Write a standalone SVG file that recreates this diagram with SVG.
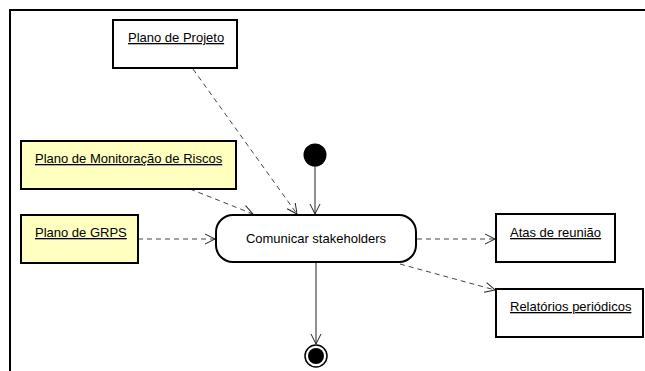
<svg xmlns="http://www.w3.org/2000/svg" width="645" height="371" viewBox="0 0 645 371">
  <defs>
    <marker id="open" viewBox="0 0 12 12" refX="11" refY="6" markerWidth="12" markerHeight="12" markerUnits="userSpaceOnUse" orient="auto">
      <path d="M1,1 L11,6 L1,11" fill="none" stroke="#222" stroke-width="1"/>
    </marker>
    <style>
      text { font-family: "Liberation Sans", Arial, sans-serif; font-size: 13px; fill: #000; }
      .obj { fill: #fff; stroke: #000; stroke-width: 2; }
      .ext { fill: #ffffc0; stroke: #000; stroke-width: 2; }
      .lbl { text-decoration: underline; }
      .dep { fill: none; stroke: #444; stroke-width: 1; stroke-dasharray: 5 4; marker-end: url(#open); }
      .flow { fill: none; stroke: #222; stroke-width: 1; marker-end: url(#open); }
    </style>
  </defs>

  <!-- frame -->
  <path d="M10,371 V10 H645" fill="none" stroke="#000" stroke-width="2"/>

  <g id="connectors">
    <line class="dep" x1="193" y1="69" x2="297" y2="214"/>
    <line class="dep" x1="190" y1="189" x2="253" y2="214"/>
    <line class="dep" x1="138" y1="239" x2="215" y2="239"/>
    <line class="flow" x1="315" y1="166" x2="315" y2="214"/>
    <line class="dep" x1="417" y1="239" x2="495" y2="239"/>
    <line class="dep" x1="400" y1="264" x2="495" y2="290"/>
    <line class="flow" x1="316" y1="263" x2="316" y2="344"/>
  </g>

  <g id="plano-projeto">
    <rect class="obj" x="113" y="20" width="124" height="48"/>
    <text class="lbl" x="128" y="42">Plano de Projeto</text>
  </g>

  <g id="plano-riscos">
    <rect class="ext" x="21" y="141" width="215" height="48"/>
    <text class="lbl" x="35" y="163">Plano de Monitoração de Riscos</text>
  </g>

  <g id="plano-grps">
    <rect class="ext" x="21" y="215" width="117" height="48"/>
    <text class="lbl" x="35" y="237">Plano de GRPS</text>
  </g>

  <g id="inicio">
    <circle cx="315" cy="155" r="11.5" fill="#000"/>
  </g>

  <g id="comunicar">
    <rect x="216" y="215" width="200" height="47" rx="17" ry="17" fill="#fff" stroke="#000" stroke-width="2"/>
    <text x="316" y="243" text-anchor="middle">Comunicar stakeholders</text>
  </g>

  <g id="atas">
    <rect class="obj" x="496" y="214" width="119" height="48"/>
    <text class="lbl" x="510" y="237">Atas de reunião</text>
  </g>

  <g id="relatorios">
    <rect class="obj" x="496" y="289" width="147" height="48"/>
    <text class="lbl" x="510" y="311">Relatórios periódicos</text>
  </g>

  <g id="fim">
    <circle cx="316" cy="356" r="11" fill="#fff" stroke="#000" stroke-width="1.5"/>
    <circle cx="316" cy="356" r="8" fill="#000"/>
  </g>
</svg>
